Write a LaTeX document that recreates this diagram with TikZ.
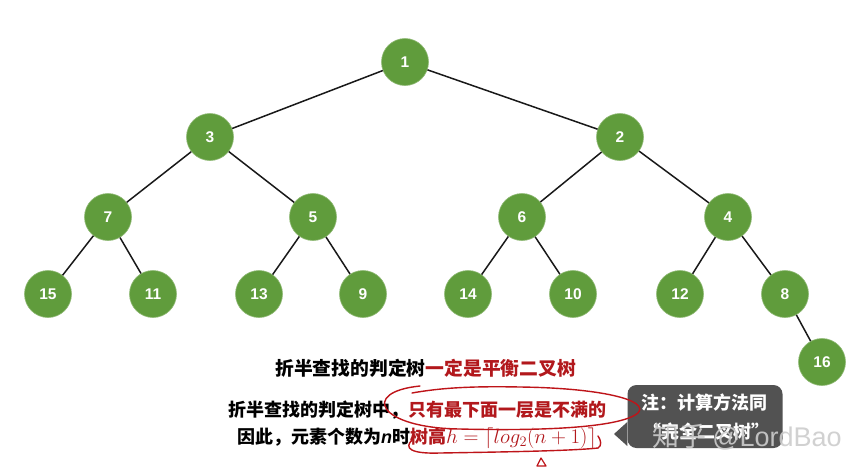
\documentclass[tikz,border=0pt]{standalone}
\usepackage{fontspec}
\usepackage{amsmath}
\setmainfont{Liberation Sans}
\newfontfamily\cjk{Noto Sans CJK SC}
\newfontfamily\lat{Liberation Sans}
\definecolor{nodegreen}{RGB}{96,156,60}
\definecolor{hred}{RGB}{190,20,25}
\definecolor{tred}{RGB}{178,24,28}
\definecolor{callgray}{RGB}{82,82,82}
\begin{document}
\begin{tikzpicture}[x=1pt,y=-1pt,
  tn/.style={circle,fill=nodegreen,draw=nodegreen!70!white,line width=0.6pt,minimum size=47pt,inner sep=0pt,text=white,font=\lat\bfseries\fontsize{15.5}{15.5}\selectfont},
  edge/.style={line width=1.5pt,black!90},
  cn/.style={font=\cjk\bfseries\fontsize{18}{20}\selectfont,inner sep=0pt,anchor=west},
  pen/.style={hred,line width=1.4pt,line cap=round,line join=round}]
\useasboundingbox (0,0) rectangle (862,472);
\fill[white] (0,0) rectangle (862,472);
% nodes
\node[tn] (n1) at (405,62) {1};
\node[tn] (n3) at (210,137) {3};
\node[tn] (n2) at (620,137) {2};
\node[tn] (n7) at (108,217) {7};
\node[tn] (n5) at (313,217) {5};
\node[tn] (n6) at (522,217) {6};
\node[tn] (n4) at (728,217) {4};
\node[tn] (n15) at (48,294) {15};
\node[tn] (n11) at (153,294) {11};
\node[tn] (n13) at (259,294) {13};
\node[tn] (n9) at (363,294) {9};
\node[tn] (n14) at (468,294) {14};
\node[tn] (n10) at (573,294) {10};
\node[tn] (n12) at (680,294) {12};
\node[tn] (n8) at (785,294) {8};
\node[tn] (n16) at (822,362) {16};
% edges
\foreach \a/\b in {n1/n3,n1/n2,n3/n7,n3/n5,n2/n6,n2/n4,n7/n15,n7/n11,n5/n13,n5/n9,n6/n14,n6/n10,n4/n12,n4/n8,n8/n16}
  \draw[edge] (\a) -- (\b);
% texts
\node[cn,font=\cjk\bfseries\fontsize{18.8}{20}\selectfont] (t1) at (275,368) {折半查找的判定树\textcolor{tred}{一定是平衡二叉树}};
\node[cn] (t2) at (228,410) {折半查找的判定树中，\textcolor{tred}{只有最下面一层是不满的}};
\node[cn] (t3) at (237,438) {因此，元素个数为{\lat\bfseries\itshape n}时\textcolor{tred}{树高{\fontsize{22}{22}\selectfont$h=\lceil log_2(n+1)\rceil$}}};
% callout
\node[fill=callgray,rounded corners=9pt,minimum width=155pt,minimum height=63pt,inner sep=0pt] (call) at (705,416.5) {};
\fill[callgray] (call.west |- 0,422) -- (614,434) -- (call.west |- 0,446) -- cycle;
\node[font=\cjk\bfseries\fontsize{18}{20}\selectfont,text=white,inner sep=0pt] (c1) at (704,403) {注：计算方法同};
\node[font=\cjk\bfseries\fontsize{18}{20}\selectfont,text=white,inner sep=0pt] (c2) at (706,432) {“完全二叉树”};
% watermark
\node[font=\cjk\fontsize{27}{28}\selectfont,text=white!80!black,opacity=0.9,inner sep=0pt,anchor=west] (wm) at (652,437) {知乎 {\lat @LordBao}};
% red annotations
\draw[pen] (420,386) .. controls (360,392) and (378,428) .. (460,429)
  .. controls (540,431) and (620,428) .. (638,413)
  .. controls (650,400) and (600,388) .. (520,387)
  .. controls (470,386) and (440,388) .. (412,393);
\draw[pen] (412,440) .. controls (404,448) and (410,454) .. (440,453)
  .. controls (500,452) and (570,451) .. (598,448)
  .. controls (602,446) and (601,440) .. (598,436);
\draw[pen,line width=1.2pt] (537,466) -- (541,458) -- (546,466) -- cycle;
\end{tikzpicture}
\end{document}
